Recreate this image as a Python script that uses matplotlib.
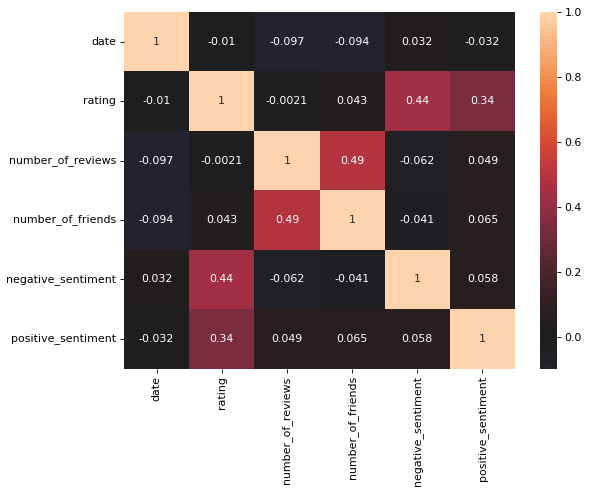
import numpy as np
import pandas as pd
import matplotlib
matplotlib.use("Agg")
import matplotlib.pyplot as plt
import seaborn as sns

labels = ["date", "rating", "number_of_reviews", "number_of_friends",
          "negative_sentiment", "positive_sentiment"]
row_date = [1, -0.01, -0.097, -0.094, 0.032, -0.032]
row_rating = [-0.01, 1, -0.0021, 0.043, 0.44, 0.34]
row_reviews = [-0.097, -0.0021, 1, 0.49, -0.062, 0.049]
row_friends = [-0.094, 0.043, 0.49, 1, -0.041, 0.065]
row_neg = [0.032, 0.44, -0.062, -0.041, 1, 0.058]
row_pos = [-0.032, 0.34, 0.049, 0.065, 0.058, 1]

corr = pd.DataFrame([row_date, row_rating, row_reviews, row_friends, row_neg, row_pos],
                    index=labels, columns=labels)

W, H = 591, 493
DPI = 79
fig = plt.figure(figsize=(W / DPI, H / DPI), dpi=DPI)
ax = fig.add_axes([124 / W, (H - 368.5) / H, (515 - 124) / W, (368.5 - 12) / H])
cax = fig.add_axes([539.5 / W, (H - 368.5) / H, (557 - 539.5) / W, (368.5 - 12) / H])
sns.heatmap(corr, annot=True, center=0, ax=ax, cbar_ax=cax)
fig.savefig("out.png", dpi=DPI)
